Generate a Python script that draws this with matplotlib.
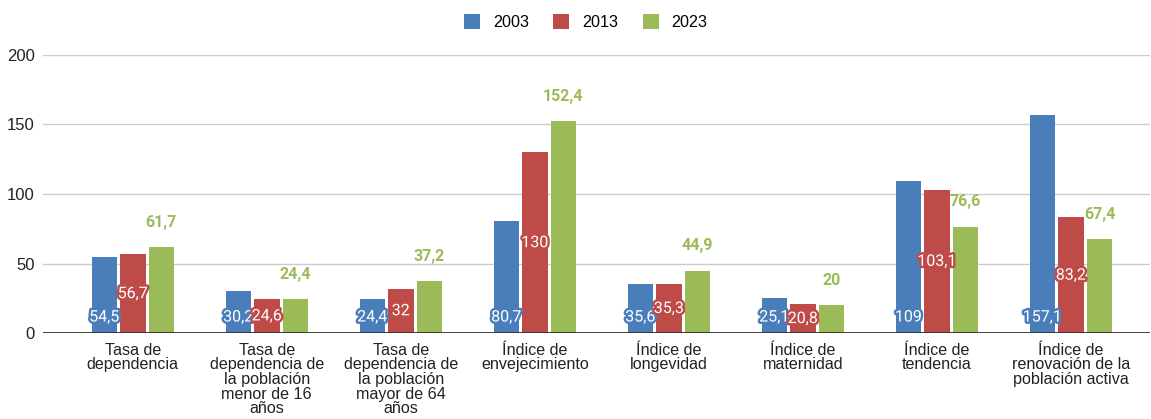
import numpy as np
import matplotlib.pyplot as plt
import matplotlib.patheffects as pe

categories = ["Tasa de\ndependencia",
              "Tasa de\ndependencia de\nla población\nmenor de 16\naños",
              "Tasa de\ndependencia de\nla población\nmayor de 64\naños",
              "Índice de\nenvejecimiento",
              "Índice de\nlongevidad",
              "Índice de\nmaternidad",
              "Índice de\ntendencia",
              "Índice de\nrenovación de la\npoblación activa"]
years = ["2003", "2013", "2023"]
v2003 = [54.5, 30.2, 24.4, 80.7, 35.6, 25.1, 109, 157.1]
v2013 = [56.7, 24.6, 32, 130, 35.3, 20.8, 103.1, 83.2]
v2023 = [61.7, 24.4, 37.2, 152.4, 44.9, 20, 76.6, 67.4]
colors = ["#4a7ebb", "#be4b48", "#9bbb59"]

def fmt(v):
    return f"{v:g}".replace(".", ",")

fig = plt.figure(figsize=(11.51, 4.19), dpi=100)
ax = fig.add_axes([43/1151, 86/419, 1107/1151, 278/419])

x = np.arange(len(categories))
w, step = 0.19, 0.213
series = [v2003, v2013, v2023]
for k, (vals, col, yr) in enumerate(zip(series, colors, years)):
    ax.bar(x + (k - 1) * step, vals, width=w, color=col, label=yr, zorder=3)

# labels: 2003 at base, 2013 in the middle, 2023 above the bar
for xi, v in zip(x - step, v2003):
    ax.annotate(fmt(v), (xi, 0), xytext=(0, 11.5), textcoords="offset points",
                ha="center", va="center", color="white", fontsize=11.5, family="Roboto",
                path_effects=[pe.withStroke(linewidth=3.5, foreground=colors[0])], zorder=5)
for xi, v in zip(x, v2013):
    ax.text(xi, v / 2, fmt(v), ha="center", va="center", color="white", fontsize=11.5,
            family="Roboto", path_effects=[pe.withStroke(linewidth=3.5, foreground=colors[1])], zorder=5)
for xi, v in zip(x + step, v2023):
    ax.annotate(fmt(v), (xi, v), xytext=(0, 12.5), textcoords="offset points",
                ha="center", va="bottom", color=colors[2], fontsize=11.5, family="Roboto",
                fontweight="bold", zorder=5)

ax.set_ylim(0, 200)
ax.set_xlim(-0.67, 7.59)
ax.set_yticks([0, 50, 100, 150, 200])
ax.yaxis.grid(True, color="#cccccc", linewidth=1, zorder=0)
ax.axhline(0, color="#333333", linewidth=1.3, zorder=4)
for s in ax.spines.values():
    s.set_visible(False)
ax.tick_params(axis="both", length=0, colors="#222222")
ax.tick_params(axis="y", labelsize=12, pad=6)
ax.set_xticks(x)
ax.set_xticklabels(categories, fontsize=11.6, linespacing=0.97, family="Liberation Sans")
for t in ax.get_yticklabels():
    t.set_family("Liberation Sans")
ax.tick_params(axis="x", pad=7)

fig.legend(loc="upper center", bbox_to_anchor=(0.509, 1.0), ncol=3, frameon=False,
           prop={"family": "Liberation Sans", "size": 11.6}, handlelength=1.0,
           handleheight=1.0, columnspacing=1.5, handletextpad=0.8)

plt.savefig("out.png", dpi=100)
